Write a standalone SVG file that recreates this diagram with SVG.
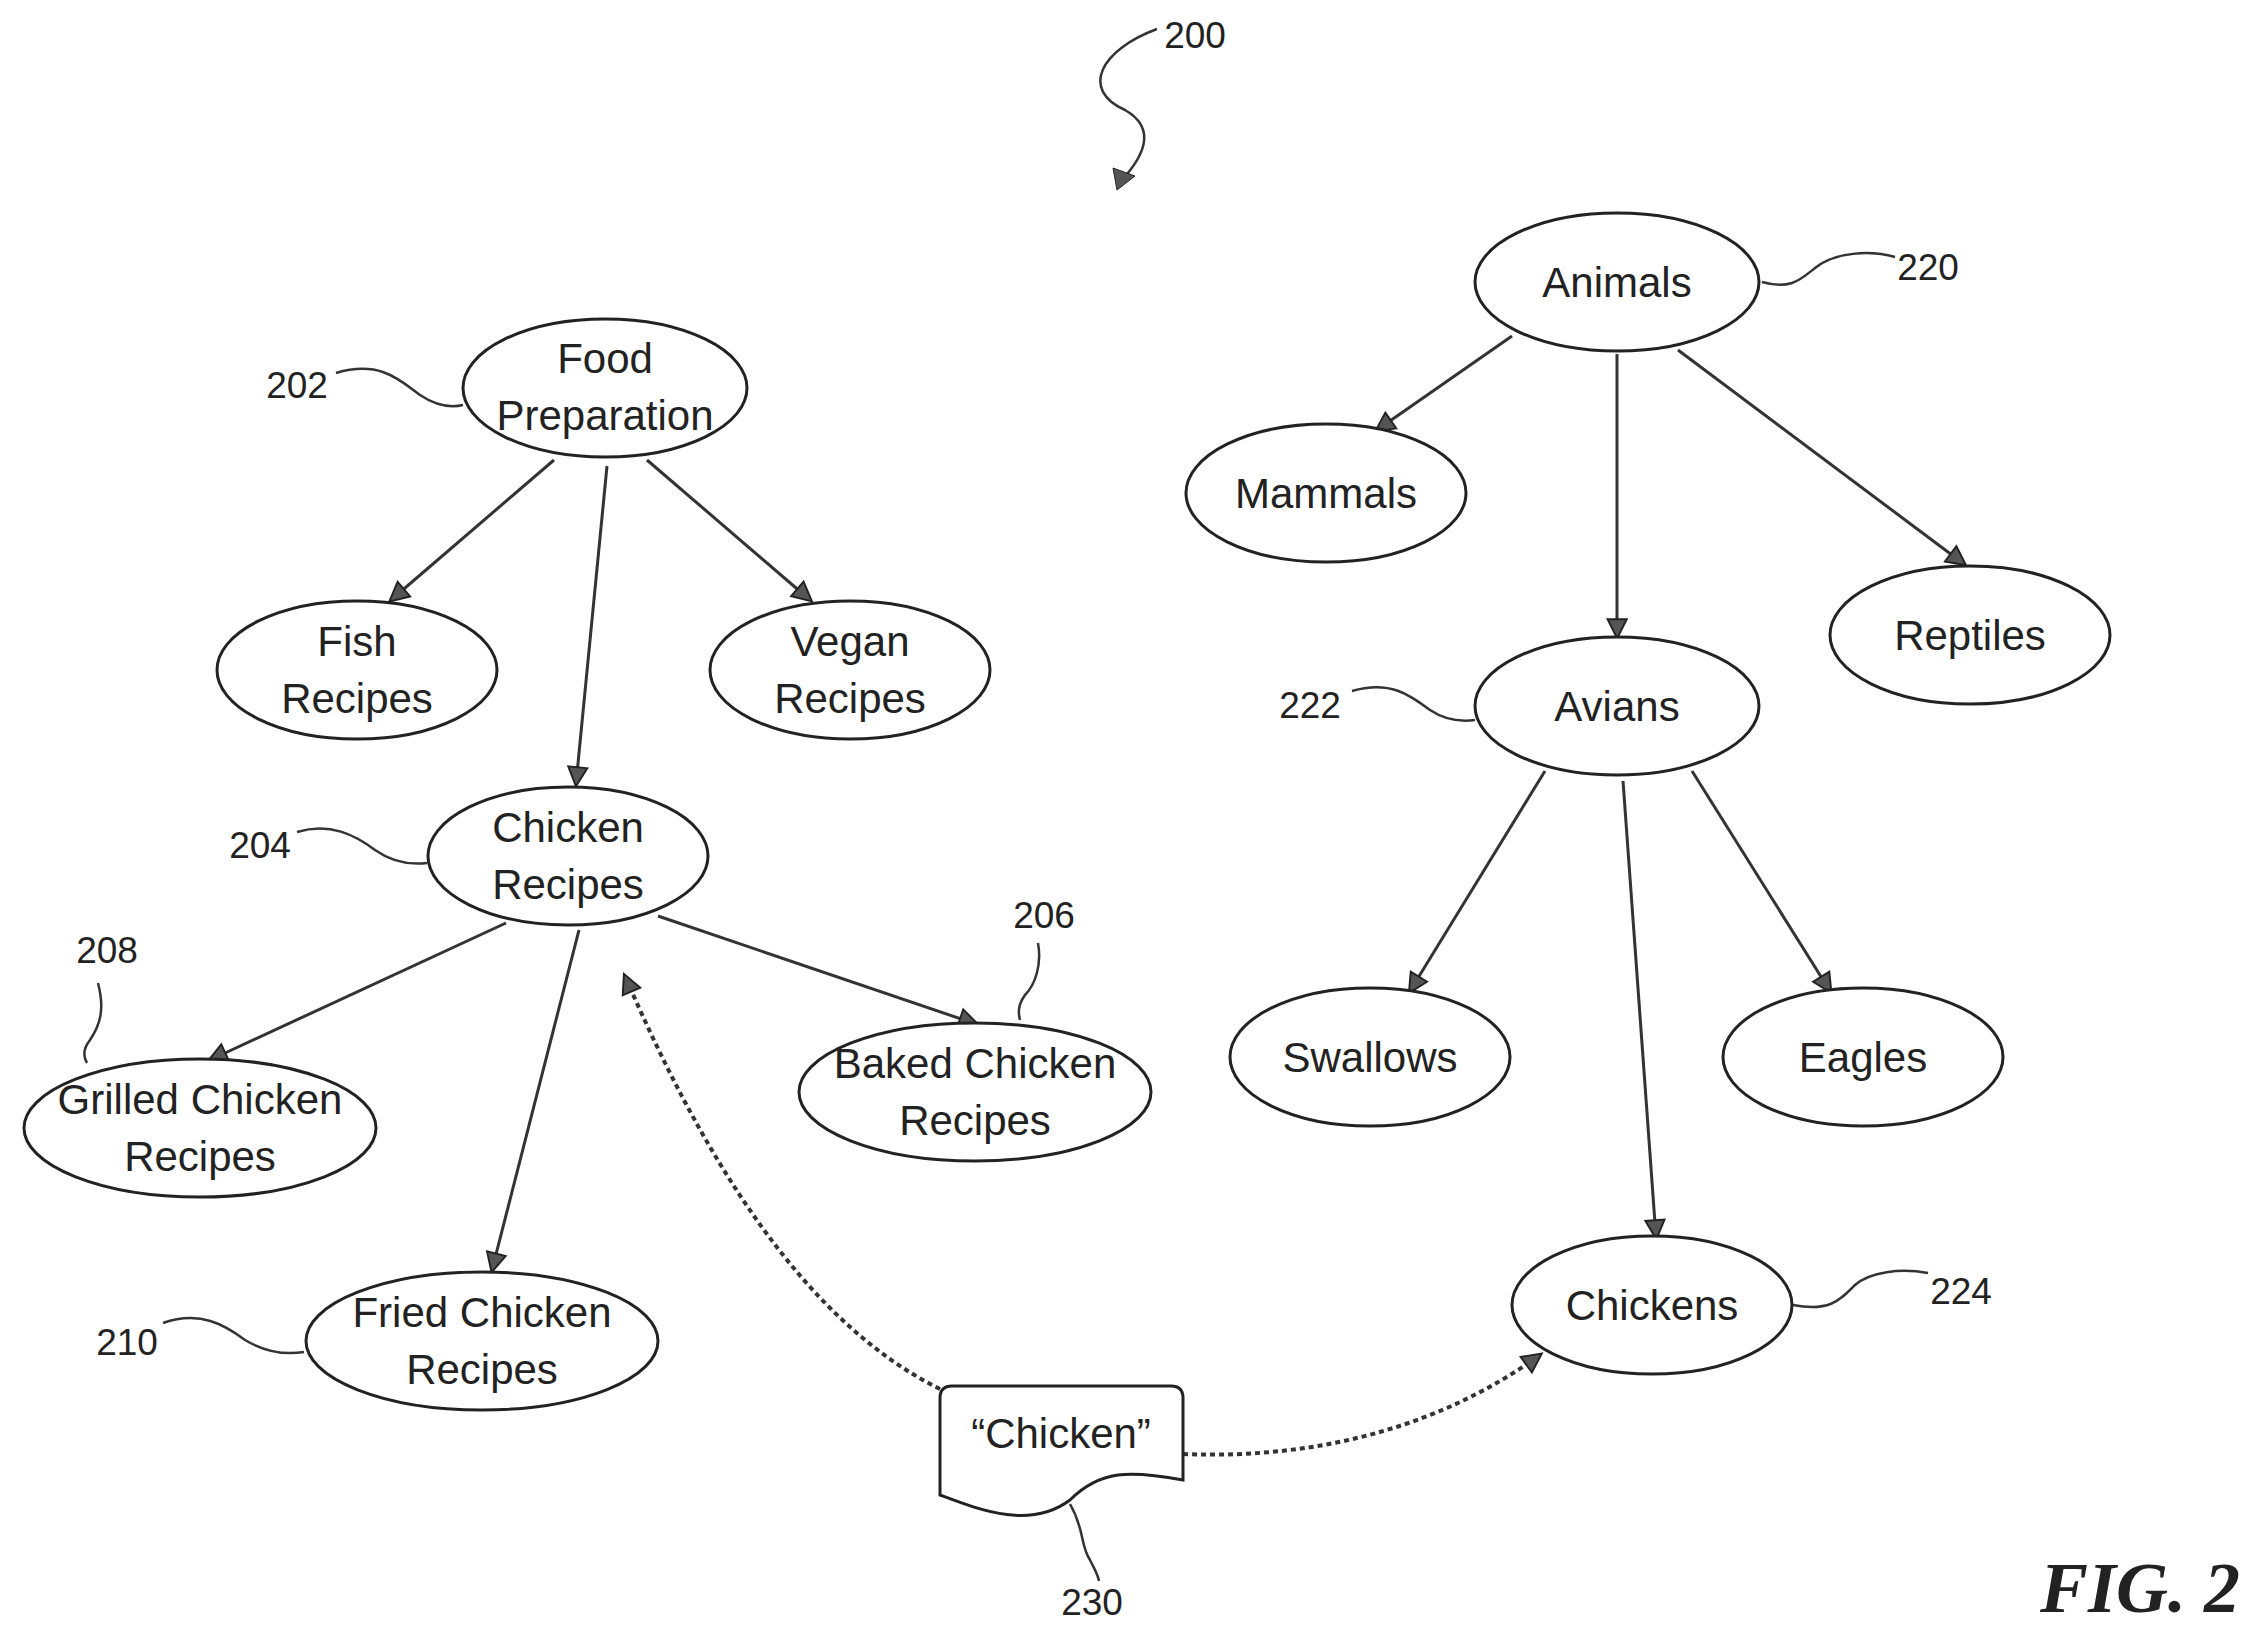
<svg xmlns="http://www.w3.org/2000/svg" width="2268" height="1637" viewBox="0 0 2268 1637">
<style>
.n{fill:#fff;stroke:#222;stroke-width:3}
.t{font-family:"Liberation Sans",Arial,sans-serif;font-size:42px;fill:#222;text-anchor:middle}
.l{font-family:"Liberation Sans",Arial,sans-serif;font-size:37px;fill:#222;text-anchor:middle}
.e{fill:none;stroke:#333;stroke-width:3;marker-end:url(#a)}
.d{fill:none;stroke:#333;stroke-width:4;stroke-dasharray:5 4;marker-end:url(#a)}
.q{fill:none;stroke:#333;stroke-width:2.5}
</style>
<defs><marker id="a" viewBox="0 0 10 10" refX="9" refY="5" markerWidth="8" markerHeight="8" markerUnits="userSpaceOnUse" orient="auto" style="overflow:visible"><path d="M0,0 L10,5 L0,10 z" fill="#555" stroke="#222" stroke-width="1" transform="scale(2.4) translate(-5,-3)"/></marker></defs>
<rect width="2268" height="1637" fill="#fff"/>
<g id="connectors">
<path class="e" d="M554,460 L391,600"/>
<path class="e" d="M607,466 L576,784"/>
<path class="e" d="M647,460 L810,600"/>
<path class="e" d="M506,923 L210,1060"/>
<path class="e" d="M579,930 L492,1270"/>
<path class="e" d="M658,916 L976,1024"/>
<path class="e" d="M1512,336 L1377,430"/>
<path class="e" d="M1617,354 L1617,636"/>
<path class="e" d="M1678,350 L1964,564"/>
<path class="e" d="M1545,771 L1410,991"/>
<path class="e" d="M1623,781 L1656,1237"/>
<path class="e" d="M1692,771 L1830,991"/>
<path class="d" d="M940,1389 C800,1320 700,1150 625,976"/>
<path class="d" d="M1183,1454 C1330,1460 1450,1420 1540,1355"/>
</g>
<g id="leaders">
<path class="q" d="M1157,29 C1100,50 1080,90 1125,110 C1160,130 1140,160 1122,180"/>
<path fill="#555" stroke="#222" d="M1117,190 l-4,-22 l22,8 z"/>
<path class="q" d="M336,373 C380,360 400,380 420,395 C435,405 450,408 463,405"/>
<path class="q" d="M1762,282 C1790,290 1800,280 1815,268 C1835,252 1870,250 1895,257"/>
<path class="q" d="M1352,691 C1390,680 1410,695 1430,710 C1445,720 1460,722 1475,720"/>
<path class="q" d="M297,832 C330,822 355,835 375,850 C392,862 410,865 427,863"/>
<path class="q" d="M98,983 C105,1010 100,1025 90,1040 C82,1050 84,1058 87,1063"/>
<path class="q" d="M1038,943 C1042,965 1035,985 1025,995 C1018,1005 1018,1012 1020,1020"/>
<path class="q" d="M163,1323 C200,1310 225,1325 245,1340 C265,1352 285,1355 304,1352"/>
<path class="q" d="M1793,1305 C1830,1312 1840,1300 1855,1285 C1870,1272 1900,1268 1928,1273"/>
<path class="q" d="M1070,1504 C1085,1530 1080,1545 1090,1560 C1095,1570 1098,1575 1099,1581"/>
</g>
<g id="n202"><ellipse class="n" cx="605" cy="388" rx="142" ry="69"/><text class="t" x="605" y="373">Food</text><text class="t" x="605" y="430">Preparation</text></g>
<g id="fish"><ellipse class="n" cx="357" cy="670" rx="140" ry="69"/><text class="t" x="357" y="656">Fish</text><text class="t" x="357" y="713">Recipes</text></g>
<g id="vegan"><ellipse class="n" cx="850" cy="670" rx="140" ry="69"/><text class="t" x="850" y="656">Vegan</text><text class="t" x="850" y="713">Recipes</text></g>
<g id="n204"><ellipse class="n" cx="568" cy="856" rx="140" ry="69"/><text class="t" x="568" y="842">Chicken</text><text class="t" x="568" y="899">Recipes</text></g>
<g id="n208"><ellipse class="n" cx="200" cy="1128" rx="176" ry="69"/><text class="t" x="200" y="1114">Grilled Chicken</text><text class="t" x="200" y="1171">Recipes</text></g>
<g id="n206"><ellipse class="n" cx="975" cy="1092" rx="176" ry="69"/><text class="t" x="975" y="1078">Baked Chicken</text><text class="t" x="975" y="1135">Recipes</text></g>
<g id="n210"><ellipse class="n" cx="482" cy="1341" rx="176" ry="69"/><text class="t" x="482" y="1327">Fried Chicken</text><text class="t" x="482" y="1384">Recipes</text></g>
<g id="n220"><ellipse class="n" cx="1617" cy="282" rx="142" ry="69"/><text class="t" x="1617" y="297">Animals</text></g>
<g id="mammals"><ellipse class="n" cx="1326" cy="493" rx="140" ry="69"/><text class="t" x="1326" y="508">Mammals</text></g>
<g id="reptiles"><ellipse class="n" cx="1970" cy="635" rx="140" ry="69"/><text class="t" x="1970" y="650">Reptiles</text></g>
<g id="n222"><ellipse class="n" cx="1617" cy="706" rx="142" ry="69"/><text class="t" x="1617" y="721">Avians</text></g>
<g id="swallows"><ellipse class="n" cx="1370" cy="1057" rx="140" ry="69"/><text class="t" x="1370" y="1072">Swallows</text></g>
<g id="eagles"><ellipse class="n" cx="1863" cy="1057" rx="140" ry="69"/><text class="t" x="1863" y="1072">Eagles</text></g>
<g id="n224"><ellipse class="n" cx="1652" cy="1305" rx="140" ry="69"/><text class="t" x="1652" y="1320">Chickens</text></g>
<g id="n230"><path class="n" d="M952,1386 L1171,1386 Q1183,1386 1183,1398 L1183,1480 C1130,1470 1100,1470 1070,1500 C1030,1530 980,1510 940,1495 L940,1398 Q940,1386 952,1386 z"/><text class="t" x="1061" y="1448">“Chicken”</text></g>
<g id="labels">
<text class="l" x="1195" y="48">200</text>
<text class="l" x="297" y="398">202</text>
<text class="l" x="1928" y="280">220</text>
<text class="l" x="1310" y="718">222</text>
<text class="l" x="260" y="858">204</text>
<text class="l" x="107" y="963">208</text>
<text class="l" x="1044" y="928">206</text>
<text class="l" x="127" y="1355">210</text>
<text class="l" x="1961" y="1304">224</text>
<text class="l" x="1092" y="1615">230</text>
<text x="2140" y="1612" style="font-family:'Liberation Serif',serif;font-size:72px;font-weight:bold;font-style:italic;text-anchor:middle;fill:#222">FIG. 2</text>
</g>
</svg>
